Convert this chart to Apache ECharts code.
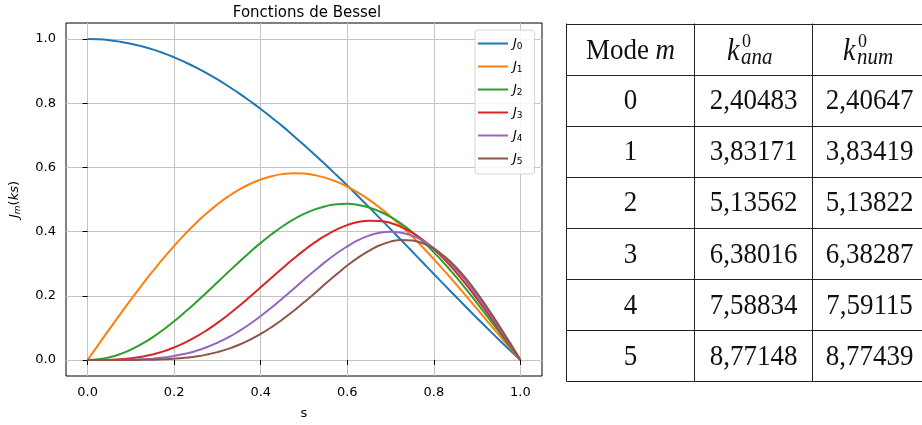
<!DOCTYPE html>
<html>
<head>
<meta charset="utf-8">
<script src="https://cdn.jsdelivr.net/npm/echarts@6/dist/echarts.min.js"></script>
<style>
  html, body { margin: 0; padding: 0; background: #fff; }
  #main { width: 922px; height: 425px; }
</style>
</head>
<body>
<div id="main"></div>
<script>
const sValues = [0, 0.025, 0.05, 0.075, 0.1, 0.125, 0.15, 0.175, 0.2, 0.225, 0.25, 0.275, 0.3, 0.325, 0.35, 0.375, 0.4, 0.425, 0.45, 0.475,
    0.5, 0.525, 0.55, 0.575, 0.6, 0.625, 0.65, 0.675, 0.7, 0.725, 0.75, 0.775, 0.8, 0.825, 0.85, 0.875, 0.9, 0.925, 0.95, 0.975, 1.0];
const j0 = [1.0, 0.9991, 0.9964, 0.9919, 0.9856, 0.9775, 0.9677, 0.9562, 0.9430, 0.9281, 0.9117, 0.8936, 0.8741, 0.8530, 0.8306, 0.8068, 0.7821, 0.7554, 0.7287, 0.6994,
    0.6699, 0.6395, 0.6083, 0.5762, 0.5435, 0.5101, 0.4763, 0.4421, 0.4076, 0.3728, 0.3379, 0.3029, 0.2679, 0.2331, 0.1985, 0.1642, 0.1302, 0.0968, 0.0638, 0.0316, 0];
const j1 = [0, 0.0479, 0.0954, 0.1422, 0.1881, 0.2327, 0.2757, 0.3168, 0.3557, 0.3922, 0.4261, 0.4571, 0.4849, 0.5095, 0.5307, 0.5483, 0.5623, 0.5726, 0.5791, 0.5818,
    0.5808, 0.5760, 0.5675, 0.5555, 0.5401, 0.5213, 0.4994, 0.4746, 0.4470, 0.4170, 0.3846, 0.3504, 0.3143, 0.2768, 0.2382, 0.1989, 0.1589, 0.1188, 0.0787, 0.0390, 0];
const j2 = [0, 0.0021, 0.0082, 0.0183, 0.0323, 0.0498, 0.0706, 0.0943, 0.1207, 0.1491, 0.1791, 0.2103, 0.2422, 0.2741, 0.3055, 0.3360, 0.3648, 0.3916, 0.4160, 0.4372,
    0.4550, 0.4692, 0.4792, 0.4851, 0.4865, 0.4831, 0.4752, 0.4626, 0.4456, 0.4241, 0.3985, 0.3690, 0.3360, 0.2999, 0.2610, 0.2199, 0.1773, 0.1332, 0.0887, 0.0441, 0];
const j3 = [0, 0.0001, 0.0007, 0.0023, 0.0053, 0.0102, 0.0172, 0.0268, 0.0391, 0.0541, 0.0719, 0.0924, 0.1156, 0.1409, 0.1680, 0.1968, 0.2263, 0.2561, 0.2858, 0.3145,
    0.3415, 0.3662, 0.3879, 0.4061, 0.4203, 0.4296, 0.4341, 0.4332, 0.4268, 0.4144, 0.3971, 0.3740, 0.3458, 0.3129, 0.2755, 0.2344, 0.1906, 0.1442, 0.0964, 0.0485, 0];
const j4 = [0, 0.0000, 0.0001, 0.0003, 0.0008, 0.0020, 0.0041, 0.0074, 0.0123, 0.0191, 0.0281, 0.0396, 0.0537, 0.0701, 0.0901, 0.1122, 0.1368, 0.1634, 0.1915, 0.2205,
    0.2499, 0.2786, 0.3064, 0.3319, 0.3538, 0.3731, 0.3873, 0.3964, 0.3997, 0.3966, 0.3873, 0.3713, 0.3484, 0.3196, 0.2848, 0.2449, 0.2006, 0.1529, 0.1027, 0.0517, 0];
const j5 = [0, 0.0000, 0.0000, 0.0000, 0.0001, 0.0004, 0.0009, 0.0020, 0.0038, 0.0066, 0.0108, 0.0166, 0.0245, 0.0346, 0.0474, 0.0630, 0.0812, 0.1022, 0.1259, 0.1519,
    0.1797, 0.2080, 0.2380, 0.2667, 0.2942, 0.3191, 0.3402, 0.3573, 0.3687, 0.3736, 0.3721, 0.3631, 0.3464, 0.3222, 0.2906, 0.2529, 0.2087, 0.1601, 0.1090, 0.0555, 0];
const seriesNames = ['J0', 'J1', 'J2', 'J3', 'J4', 'J5'];
const tickValues = [0, 0.2, 0.4, 0.6, 0.8, 1.0];

// table on the right
const modes = ['0', '1', '2', '3', '4', '5'];
const kAna = ['2,40483', '3,83171', '5,13562', '6,38016', '7,58834', '8,77148'];
const kNum = ['2,40647', '3,83419', '5,13822', '6,38287', '7,59115', '8,77439'];

const colors = ['#1f77b4', '#ff7f0e', '#2ca02c', '#d62728', '#9467bd', '#8c564b'];
const allSeries = [j0, j1, j2, j3, j4, j5];

const chart = echarts.init(document.getElementById('main'));

const mathRich = {
    j: { fontStyle: 'italic', fontSize: 13, fontFamily: 'DejaVu Sans', color: '#000' },
    s: { fontSize: 9, fontFamily: 'DejaVu Sans', color: '#000', verticalAlign: 'bottom', padding: [6, 0, 0, 0] },
    si: { fontSize: 9, fontStyle: 'italic', fontFamily: 'DejaVu Sans', color: '#000', verticalAlign: 'bottom', padding: [6, 0, 0, 0] },
    r: { fontSize: 13, fontFamily: 'DejaVu Sans', color: '#000' }
};

// table drawn with graphic elements
const serif = 'Liberation Serif';
const colX = [566.5, 694.5, 812.5, 932];
const colCenter = [630.5, 753.5, 869.5];
const rowTop = 23.5, rowH = 51.1, nRows = 7;
const stretch = 1.1; // LaTeX glyphs are a bit taller than Liberation Serif
const tableGraphic = [];
for (let i = 0; i <= nRows; i++) {
    const y = Math.round(rowTop + i * rowH) + 0.5;
    tableGraphic.push({ type: 'line', shape: { x1: colX[0], y1: y, x2: colX[3], y2: y }, style: { stroke: '#222', lineWidth: 1 } });
}
colX.forEach(x => {
    tableGraphic.push({ type: 'line', shape: { x1: x, y1: rowTop, x2: x, y2: Math.round(rowTop + nRows * rowH) + 0.5 }, style: { stroke: '#222', lineWidth: 1 } });
});
const txt = (x, y, text, size, italic, align) => ({
    type: 'text', x: x, y: y, scaleY: stretch,
    style: {
        text: text, fontFamily: serif, fontSize: size, fontStyle: italic ? 'italic' : 'normal',
        fill: '#111', align: align || 'center', verticalAlign: 'middle'
    }
});
const hy = rowTop + 0.5 * rowH;
tableGraphic.push({
    type: 'text', x: colCenter[0], y: hy + 2, scaleY: stretch,
    style: {
        text: '{r|Mode }{i|m}', align: 'center', verticalAlign: 'middle',
        rich: {
            r: { fontFamily: serif, fontSize: 27, fill: '#111' },
            i: { fontFamily: serif, fontSize: 27, fontStyle: 'italic', fill: '#111' }
        }
    }
});
[[colCenter[1], 'ana'], [colCenter[2], 'num']].forEach(([cx, sub]) => {
    const kx = cx - 14;
    tableGraphic.push(txt(kx, hy + 3, 'k', 28, true, 'right'));
    tableGraphic.push(txt(kx + 2.5, hy - 7.5, '0', 18, false, 'left'));
    tableGraphic.push(txt(kx + 1.5, hy + 8.5, sub, 21, true, 'left'));
});
modes.forEach((m, r) => {
    const y = rowTop + (r + 1.5) * rowH + 1.3;
    tableGraphic.push(txt(colCenter[0], y, m, 27));
    tableGraphic.push(txt(colCenter[1], y, kAna[r], 27));
    tableGraphic.push(txt(colCenter[2], y, kNum[r], 27));
});

const option = {
    backgroundColor: '#fff',
    animation: false,
    title: {
        text: 'Fonctions de Bessel',
        left: 302, top: 1, textAlign: 'center',
        textStyle: { fontFamily: 'DejaVu Sans', fontSize: 15, fontWeight: 'normal', color: '#000' }
    },
    legend: {
        orient: 'vertical',
        left: 475, top: 30,
        padding: [7, 12, 8, 3],
        itemWidth: 30, itemHeight: 14, itemGap: 9,
        icon: 'path://M0,0 H30 V2 H0 Z',
        backgroundColor: 'rgba(255,255,255,0.85)',
        borderColor: '#d4d4d4', borderWidth: 1, borderRadius: 3,
        data: seriesNames,
        formatter: name => '{j|J}{s|' + name.slice(1) + '}',
        textStyle: { rich: mathRich }
    },
    grid: {
        left: 62, right: 380, top: 23, bottom: 43,
        show: true, borderColor: '#000', borderWidth: 1
    },
    xAxis: {
        type: 'value', min: -0.05, max: 1.05,
        name: 's', nameLocation: 'middle', nameGap: 31,
        nameTextStyle: { fontFamily: 'DejaVu Sans', fontSize: 13, color: '#000' },
        axisLine: { show: false },
        axisTick: { show: true, length: 5, customValues: tickValues, lineStyle: { color: '#000' } },
        axisLabel: {
            customValues: tickValues, margin: 10,
            formatter: v => v.toFixed(1),
            fontFamily: 'DejaVu Sans', fontSize: 13, color: '#000'
        },
        splitLine: { show: true, lineStyle: { color: '#c4c4c4', width: 1 } }
    },
    yAxis: {
        type: 'value', min: -0.05, max: 1.05,
        name: '{j|J}{si|m}{r|(}{j|ks}{r|)}', nameLocation: 'middle', nameGap: 44, nameRotate: 90,
        nameTextStyle: { rich: mathRich },
        axisLine: { show: false },
        axisTick: { show: true, length: 5, customValues: tickValues, lineStyle: { color: '#000' } },
        axisLabel: {
            customValues: tickValues, margin: 10,
            formatter: v => v.toFixed(1),
            fontFamily: 'DejaVu Sans', fontSize: 13, color: '#000'
        },
        splitLine: { show: true, lineStyle: { color: '#c4c4c4', width: 1 } }
    },
    series: seriesNames.map((name, i) => ({
        name: name,
        type: 'line',
        data: sValues.map((s, k) => [s, allSeries[i][k]]),
        smooth: true,
        symbol: 'none',
        lineStyle: { color: colors[i], width: 2 },
        itemStyle: { color: colors[i] }
    })),
    graphic: tableGraphic
};

chart.setOption(option);
</script>
</body>
</html>
